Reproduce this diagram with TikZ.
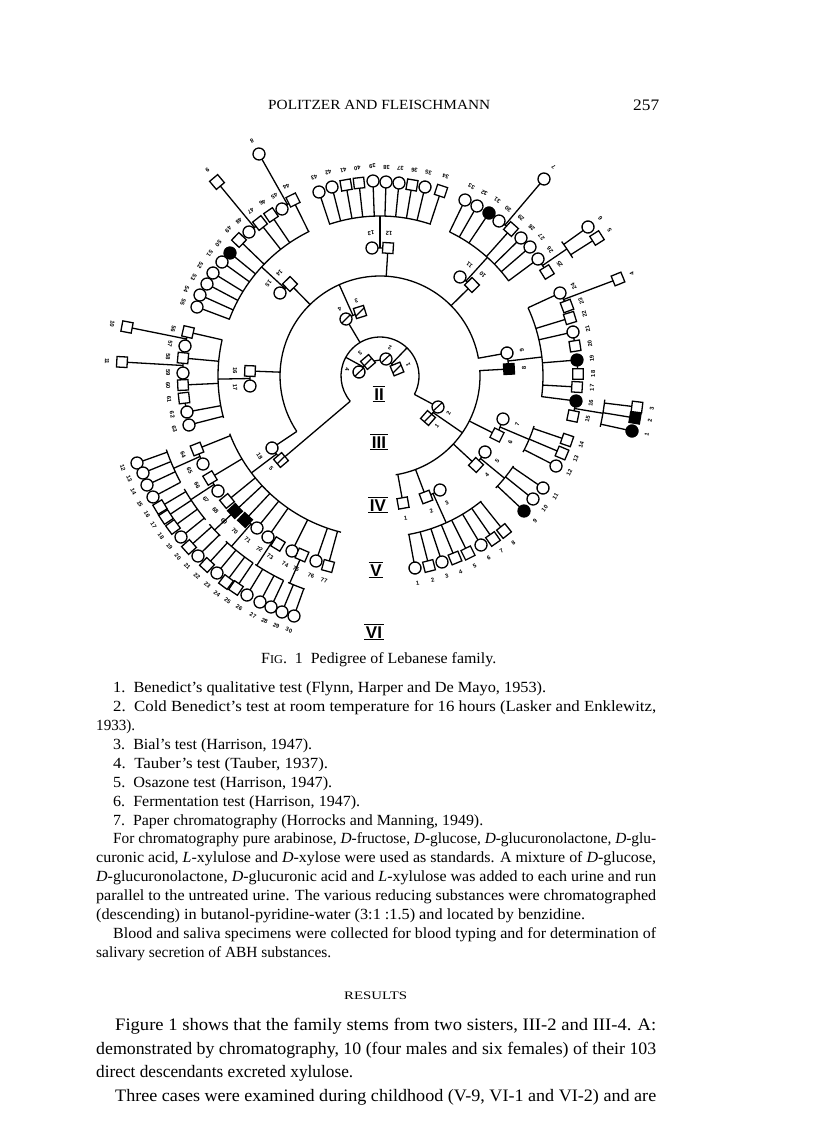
\documentclass[tikz,border=0pt]{standalone}
\usepackage{fontspec}
\setmainfont{Liberation Serif}
\setsansfont{Liberation Sans}
\usepackage{graphicx}
\usetikzlibrary{calc}
\tikzset{
 ln/.style={line width=1.3pt},
 sym/.style={draw, line width=1.3pt, fill=white, inner sep=0pt, outer sep=0pt},
 pm/.style={sym, rectangle, minimum width=10.5pt, minimum height=10.5pt},
 pf/.style={sym, circle, minimum size=12pt},
 pM/.style={pm, fill=black},
 pF/.style={pf, fill=black},
 dslash/.style={path picture={\draw[line width=1.2pt] (path picture bounding box.south west) -- (path picture bounding box.north east);}},
 pmd/.style={pm, dslash},
 pfd/.style={pf, dslash},
 lab/.style={inner sep=0pt, font=\fontsize{5.8}{6.5}\selectfont\sffamily\bfseries},
 gen/.style={inner sep=0pt, font=\fontsize{17}{17}\selectfont\sffamily\bfseries, text height=12.2pt, text depth=0pt},
 txt/.style={anchor=base west, inner sep=0pt},
}
\newcommand\smf{\fontsize{15.5}{19}\selectfont}
\newcommand\bgf{\fontsize{17.5}{22}\selectfont}
\newcommand\hdf{\fontsize{14}{16}\selectfont}
% #1 label distance, #2 name, #3 x, #4 y, #5 style, #6 label
\newcommand\ped[6][15]{%
  \pgfmathsetmacro\pa{atan2(376-(#4),(#3)-380)}%
  \node[#5, rotate=\pa] (#2) at (#3,-#4) {};
  \node[lab, rotate=\pa+90] (#2l) at ($(#3,-#4)+(\pa:#1)$) {#6};
}
\newcommand\rad[2]{\draw[ln] (#1) -- ($(C)!#2pt!(#1)$);}
\newcommand\mar[3]{\draw[ln] (#1) -- (#2); \coordinate (#3) at ($(#1)!0.5!(#2)$);}
\newcommand\outl[2]{\draw[ln] (#1) -- ($(C)!#2pt!(#1)$);}
\newcommand\parc[3]{\draw[ln] ($(C)+(#1:#3)$) arc[start angle=#1, end angle=#2, radius=#3];}
\newcommand\genlab[4]{%
  \node[gen] (#1) at (#2,-#3) {#4};
  \draw[line width=1.5pt] ([xshift=-1.5pt,yshift=1pt]#1.north west) -- ([xshift=1.5pt,yshift=1pt]#1.north east);
  \draw[line width=1.5pt] ([xshift=-1.5pt,yshift=-1pt]#1.south west) -- ([xshift=1.5pt,yshift=-1pt]#1.south east);
}
\newcommand\tline[6]{\node[txt, font=#5] (#1) at (#2,-#3) {\resizebox{#4pt}{\height}{#6}};}
\begin{document}
\begin{tikzpicture}[x=1pt,y=1pt]
\useasboundingbox (0,0) rectangle (816,-1122);
\fill[white] (0,0) rectangle (816,-1122);
\coordinate (C) at (380,-376);

% ---------- generation II ----------
\ped[12]{a4}{359}{372}{pfd}{4}
\ped[12]{a3}{368}{362}{pmd}{3}
\ped[12]{a2}{386}{359}{pfd}{2}
\ped[12]{a1}{397}{369}{pmd}{1}
% ---------- generation III ----------
\ped[12]{b4}{346}{319}{pfd}{4}
\ped[12]{b3}{360}{312}{pmd}{3}
\ped[12]{b2}{438}{407}{pfd}{2}
\ped[12]{b1}{428}{418}{pmd}{1}
\ped[13]{b5}{281}{460}{pmd}{5}
% ---------- generation IV ----------
\ped{d1}{403}{503}{pm}{1}
\ped{d2}{426}{497}{pm}{2}
\ped{d3}{440}{490}{pf}{3}
\ped{d4}{476}{465}{pm}{4}
\ped{d5}{485}{452}{pf}{5}
\ped{d6}{497}{435}{pm}{6}
\ped{d7}{503}{419}{pf}{7}
\ped{d8}{509}{369}{pM}{8}
\ped{d9}{507}{353}{pf}{9}
\ped{d10}{472}{285}{pm}{10}
\ped{d11}{460}{277}{pf}{11}
\ped{d12}{388}{248}{pm}{12}
\ped{d13}{372}{248}{pf}{13}
\ped{d14}{290}{284}{pm}{14}
\ped{d15}{280}{293}{pf}{15}
\ped{d16}{250}{371}{pm}{16}
\ped{d17}{250}{386}{pf}{17}
\ped{d18}{272}{448}{pf}{18}
% ---------- generation V ----------
\ped{e1}{415}{568}{pf}{1}
\ped{e2}{429}{566}{pm}{2}
\ped{e3}{442}{562}{pf}{3}
\ped{e4}{455}{558}{pm}{4}
\ped{e5}{468}{553}{pm}{5}
\ped{e6}{481}{545}{pf}{6}
\ped{e7}{493}{539}{pm}{7}
\ped{e8}{504}{531}{pm}{8}
\ped{e9}{524}{511}{pF}{9}
\ped{e10}{533}{499}{pf}{10}
\ped{e11}{543}{488}{pf}{11}
\ped{e12}{556}{466}{pf}{12}
\ped{e13}{562}{453}{pm}{13}
\ped{e14}{567}{440}{pm}{14}
\ped{e15}{573}{416}{pm}{15}
\ped{e16}{576}{401}{pF}{16}
\ped{e17}{577}{387}{pm}{17}
\ped{e18}{578}{374}{pm}{18}
\ped{e19}{577}{360}{pF}{19}
\ped{e20}{575}{346}{pm}{20}
\ped{e21}{573}{332}{pf}{21}
\ped{e22}{570}{318}{pm}{22}
\ped{e23}{567}{306}{pm}{23}
\ped{e24}{560}{293}{pf}{24}
\ped{e25}{547}{272}{pm}{25}
\ped{e26}{538}{259}{pf}{26}
\ped{e27}{530}{247}{pf}{27}
\ped{e28}{521}{238}{pf}{28}
\ped{e29}{511}{229}{pm}{29}
\ped{e30}{499}{221}{pf}{30}
\ped{e31}{489}{213}{pF}{31}
\ped{e32}{477}{206}{pf}{32}
\ped{e33}{465}{200}{pf}{33}
\ped{e34}{441}{191}{pm}{34}
\ped{e35}{425}{187}{pf}{35}
\ped{e36}{412}{185}{pm}{36}
\ped{e37}{399}{183}{pf}{37}
\ped{e38}{386}{182}{pf}{38}
\ped{e39}{373}{181}{pf}{39}
\ped{e40}{359}{183}{pm}{40}
\ped{e41}{346}{185}{pm}{41}
\ped{e42}{332}{187}{pf}{42}
\ped{e43}{319}{192}{pf}{43}
\ped{e44}{293}{200}{pm}{44}
\ped{e45}{282}{209}{pf}{45}
\ped{e46}{271}{215}{pm}{46}
\ped{e47}{260}{223}{pm}{47}
\ped{e48}{249}{232}{pf}{48}
\ped{e49}{239}{240}{pm}{49}
\ped{e50}{230}{253}{pF}{50}
\ped{e51}{222}{262}{pf}{51}
\ped{e52}{213}{273}{pf}{52}
\ped{e53}{207}{284}{pf}{53}
\ped{e54}{200}{295}{pf}{54}
\ped{e55}{197}{307}{pf}{55}
\ped{e56}{188}{332}{pm}{56}
\ped{e57}{185}{346}{pf}{57}
\ped{e58}{183}{358}{pm}{58}
\ped{e59}{183}{373}{pf}{59}
\ped{e60}{183}{385}{pm}{60}
\ped{e61}{184}{398}{pm}{61}
\ped{e62}{187}{412}{pf}{62}
\ped{e63}{189}{425}{pf}{63}
\ped{e64}{197}{449}{pm}{64}
\ped{e65}{203}{464}{pf}{65}
\ped{e66}{210}{478}{pm}{66}
\ped{e67}{218}{491}{pf}{67}
\ped{e68}{227}{501}{pm}{68}
\ped{e69}{235}{511}{pM}{69}
\ped{e70}{245}{520}{pM}{70}
\ped{e71}{257}{528}{pf}{71}
\ped{e72}{268}{537}{pf}{72}
\ped{e73}{278}{544}{pm}{73}
\ped{e74}{292}{551}{pf}{74}
\ped{e75}{302}{555}{pm}{75}
\ped{e76}{316}{561}{pf}{76}
\ped{e77}{328}{566}{pm}{77}
% ---------- generation VI ----------
\ped{g1}{632}{431}{pF}{1}
\ped{g2}{635}{418}{pM}{2}
\ped{g3}{637}{407}{pm}{3}
\ped{g4}{618}{279}{pm}{4}
\ped{g5}{597}{238}{pm}{5}
\ped{g6}{588}{227}{pf}{6}
\ped{g7}{544}{179}{pf}{7}
\ped{g8}{259}{154}{pf}{8}
\ped{g9}{217}{182}{pm}{9}
\ped{g10}{127}{327}{pm}{10}
\ped{g11}{122}{362}{pm}{11}
\ped{g12}{137}{463}{pf}{12}
\ped{g13}{143}{473}{pf}{13}
\ped{g14}{147}{485}{pf}{14}
\ped{g15}{153}{497}{pf}{15}
\ped{g16}{160}{507}{pm}{16}
\ped{g17}{166}{517}{pm}{17}
\ped{g18}{173}{527}{pm}{18}
\ped{g19}{181}{537}{pf}{19}
\ped{g20}{189}{547}{pm}{20}
\ped{g21}{198}{556}{pf}{21}
\ped{g22}{207}{565}{pm}{22}
\ped{g23}{217}{573}{pf}{23}
\ped{g24}{226}{582}{pm}{24}
\ped{g25}{236}{588}{pm}{25}
\ped{g26}{247}{595}{pf}{26}
\ped{g27}{260}{602}{pf}{27}
\ped{g28}{271}{607}{pf}{28}
\ped{g29}{282}{612}{pf}{29}
\ped{g30}{294}{616}{pf}{30}

% ---------- connectors II/III ----------
\mar{a4}{a3}{m34}
\draw[ln] (a3) -- (a2);
\mar{a2}{a1}{m12}
\draw[ln] (m34) -- ($(C)!39pt!(m34)$);
\draw[ln] (m12) -- ($(C)!39pt!(m12)$);
\parc{-28}{220}{39}
\rad{b4}{39} \rad{b2}{39} \rad{b5}{39}
\mar{b4}{b3}{mb43} \outl{mb43}{100}
\mar{b2}{b1}{mb21} \outl{mb21}{100}
\mar{b5}{d18}{mb5} \outl{mb5}{161}
\parc{10}{213.7}{100}
\parc{-81}{3.4}{100}
% ---------- connectors IV ----------
\rad{d1}{100} \rad{d2}{100} \rad{d4}{100} \rad{d6}{100} \rad{d8}{100}
\rad{d9}{100} \rad{d10}{100} \rad{d12}{100} \rad{d14}{100} \rad{d16}{100} \rad{d18}{100}
\mar{d2}{d3}{md23} \outl{md23}{161}
\mar{d4}{d5}{md45} \outl{md45}{161}
\mar{d6}{d7}{md67} \outl{md67}{162}
\mar{d8}{d9}{md89} \outl{md89}{163}
\mar{d10}{d11}{md1011} \outl{md1011}{160}
\mar{d12}{d13}{md1213} \outl{md1213}{160}
\mar{d14}{d15}{md1415} \outl{md1415}{161}
\mar{d16}{d17}{md1617} \outl{md1617}{162}
% ---------- sibship arcs V ----------
\parc{-80}{-51}{161}
\parc{-44}{-34}{161}
\parc{-28}{-18}{162}
\parc{-7.4}{24.7}{163}
\parc{36.4}{64.2}{160}
\parc{71.5}{108.5}{160}
\parc{116}{159.5}{161}
\parc{167}{195}{162}
\parc{201}{256}{161}
% ---------- connectors V ----------
\foreach \n in {e1,e2,e3,e4,e5,e6,e7,e8,e9,e10,e11,e44,e46,e47,e49,e50,e51,e52,e53,e54,e55,e64,e66,e68,e69,e70,e71,e72,e74,e76,e77} {\rad{\n}{161}}
\foreach \n in {e12,e13,e14,e56,e58,e60,e62,e63} {\rad{\n}{162}}
\foreach \n in {e16,e17,e19,e21,e22,e24} {\rad{\n}{163}}
\foreach \n in {e26,e27,e28,e29,e31,e32,e33,e34,e35,e36,e37,e38,e39,e40,e41,e42,e43} {\rad{\n}{160}}
\mar{e15}{e16}{mv1516}
\mar{e18}{e19}{mv1819}
\mar{e20}{e21}{mv2021}
\mar{e23}{e24}{mv2324}
\mar{e25}{e26}{mv2526}
\mar{e29}{e30}{mv2930}
\mar{e44}{e45}{mv4445}
\mar{e47}{e48}{mv4748}
\mar{e56}{e57}{mv5657}
\mar{e58}{e59}{mv5859}
\mar{e61}{e62}{mv6162}
\mar{e64}{e65}{mv6465}
\mar{e66}{e67}{mv6667}
\mar{e70}{e71}{mv7071}
\mar{e72}{e73}{mv7273}
\mar{e74}{e75}{mv7475}
% ---------- connectors VI ----------
\draw[ln] (mv2324) -- (g4);
\draw[ln] (mv2930) -- (g7);
\draw[ln] (mv4445) -- (g8);
\draw[ln] (mv4748) -- (g9);
\draw[ln] (mv5657) -- (g10);
\draw[ln] (mv5859) -- (g11);
\parc{-13}{-6}{226} \outl{mv1516}{226}
\foreach \n in {g1,g2,g3} {\rad{\n}{226}}
\parc{31.5}{36.5}{226} \outl{mv2526}{226}
\foreach \n in {g5,g6} {\rad{\n}{226}}
\parc{199}{208}{226} \outl{mv6465}{226}
\parc{210}{219.5}{226} \outl{mv6667}{226}
\parc{221}{225}{226} \outl{e69}{226}
\parc{227}{235.8}{226} \outl{mv7071}{226}
\parc{236.5}{244.7}{226} \outl{mv7273}{226}
\parc{246}{250.5}{226} \outl{e75}{226}
\foreach \n in {g12,g13,g14,g15,g16,g17,g18,g19,g20,g21,g22,g23,g24,g25,g26,g27,g28,g29,g30} {\rad{\n}{226}}

% ---------- generation numerals ----------
\genlab{gII}{379}{394}{II}
\genlab{gIII}{379}{442}{III}
\genlab{gIV}{378}{505}{IV}
\genlab{gV}{376}{570}{V}
\genlab{gVI}{374}{632}{VI}

% ---------- page text ----------
\tline{hd}{268}{109}{222}{\hdf}{POLITZER AND FLEISCHMANN}
\tline{pg}{633}{110}{26}{\fontsize{16}{18}\selectfont}{257}
\tline{cap}{261}{663}{235}{\smf}{F{\fontsize{12}{14}\selectfont IG}.\ \ 1\ \ Pedigree of Lebanese family.}
\tline{t0}{113}{692}{433}{\smf}{1.\ \ Benedict's qualitative test (Flynn, Harper and De Mayo, 1953).}
\tline{t1}{113}{711}{543}{\smf}{2.\ \ Cold Benedict's test at room temperature for 16 hours (Lasker and Enklewitz,}
\tline{t2}{96}{730}{39}{\smf}{1933).}
\tline{t3}{113}{749}{199}{\smf}{3.\ \ Bial's test (Harrison, 1947).}
\tline{t4}{113}{768}{215}{\smf}{4.\ \ Tauber's test (Tauber, 1937).}
\tline{t5}{113}{787}{219}{\smf}{5.\ \ Osazone test (Harrison, 1947).}
\tline{t6}{113}{806}{247}{\smf}{6.\ \ Fermentation test (Harrison, 1947).}
\tline{t7}{113}{825}{370}{\smf}{7.\ \ Paper chromatography (Horrocks and Manning, 1949).}
\tline{t8}{113}{843}{543}{\smf}{For chromatography pure arabinose, \textit{D}-fructose, \textit{D}-glucose, \textit{D}-glucuronolactone, \textit{D}-glu-}
\tline{t9}{96}{862}{560}{\smf}{curonic acid, \textit{L}-xylulose and \textit{D}-xylose were used as standards. A mixture of \textit{D}-glucose,}
\tline{t10}{96}{881}{560}{\smf}{\textit{D}-glucuronolactone, \textit{D}-glucuronic acid and \textit{L}-xylulose was added to each urine and run}
\tline{t11}{96}{900}{560}{\smf}{parallel to the untreated urine. The various reducing substances were chromatographed}
\tline{t12}{96}{919}{489}{\smf}{(descending) in butanol-pyridine-water (3:1 :1.5) and located by benzidine.}
\tline{t13}{113}{938}{543}{\smf}{Blood and saliva specimens were collected for blood typing and for determination of}
\tline{t14}{96}{957}{235}{\smf}{salivary secretion of ABH substances.}
\tline{res}{344}{999}{63}{\fontsize{11.5}{13}\selectfont}{RESULTS}
\tline{b0}{115}{1030}{541}{\bgf}{Figure 1 shows that the family stems from two sisters, III-2 and III-4. A:}
\tline{b1}{96}{1054}{560}{\bgf}{demonstrated by chromatography, 10 (four males and six females) of their 103}
\tline{b2}{96}{1077}{257}{\bgf}{direct descendants excreted xylulose.}
\tline{b3}{115}{1101}{541}{\bgf}{Three cases were examined during childhood (V-9, VI-1 and VI-2) and are}
\end{tikzpicture}
\end{document}
